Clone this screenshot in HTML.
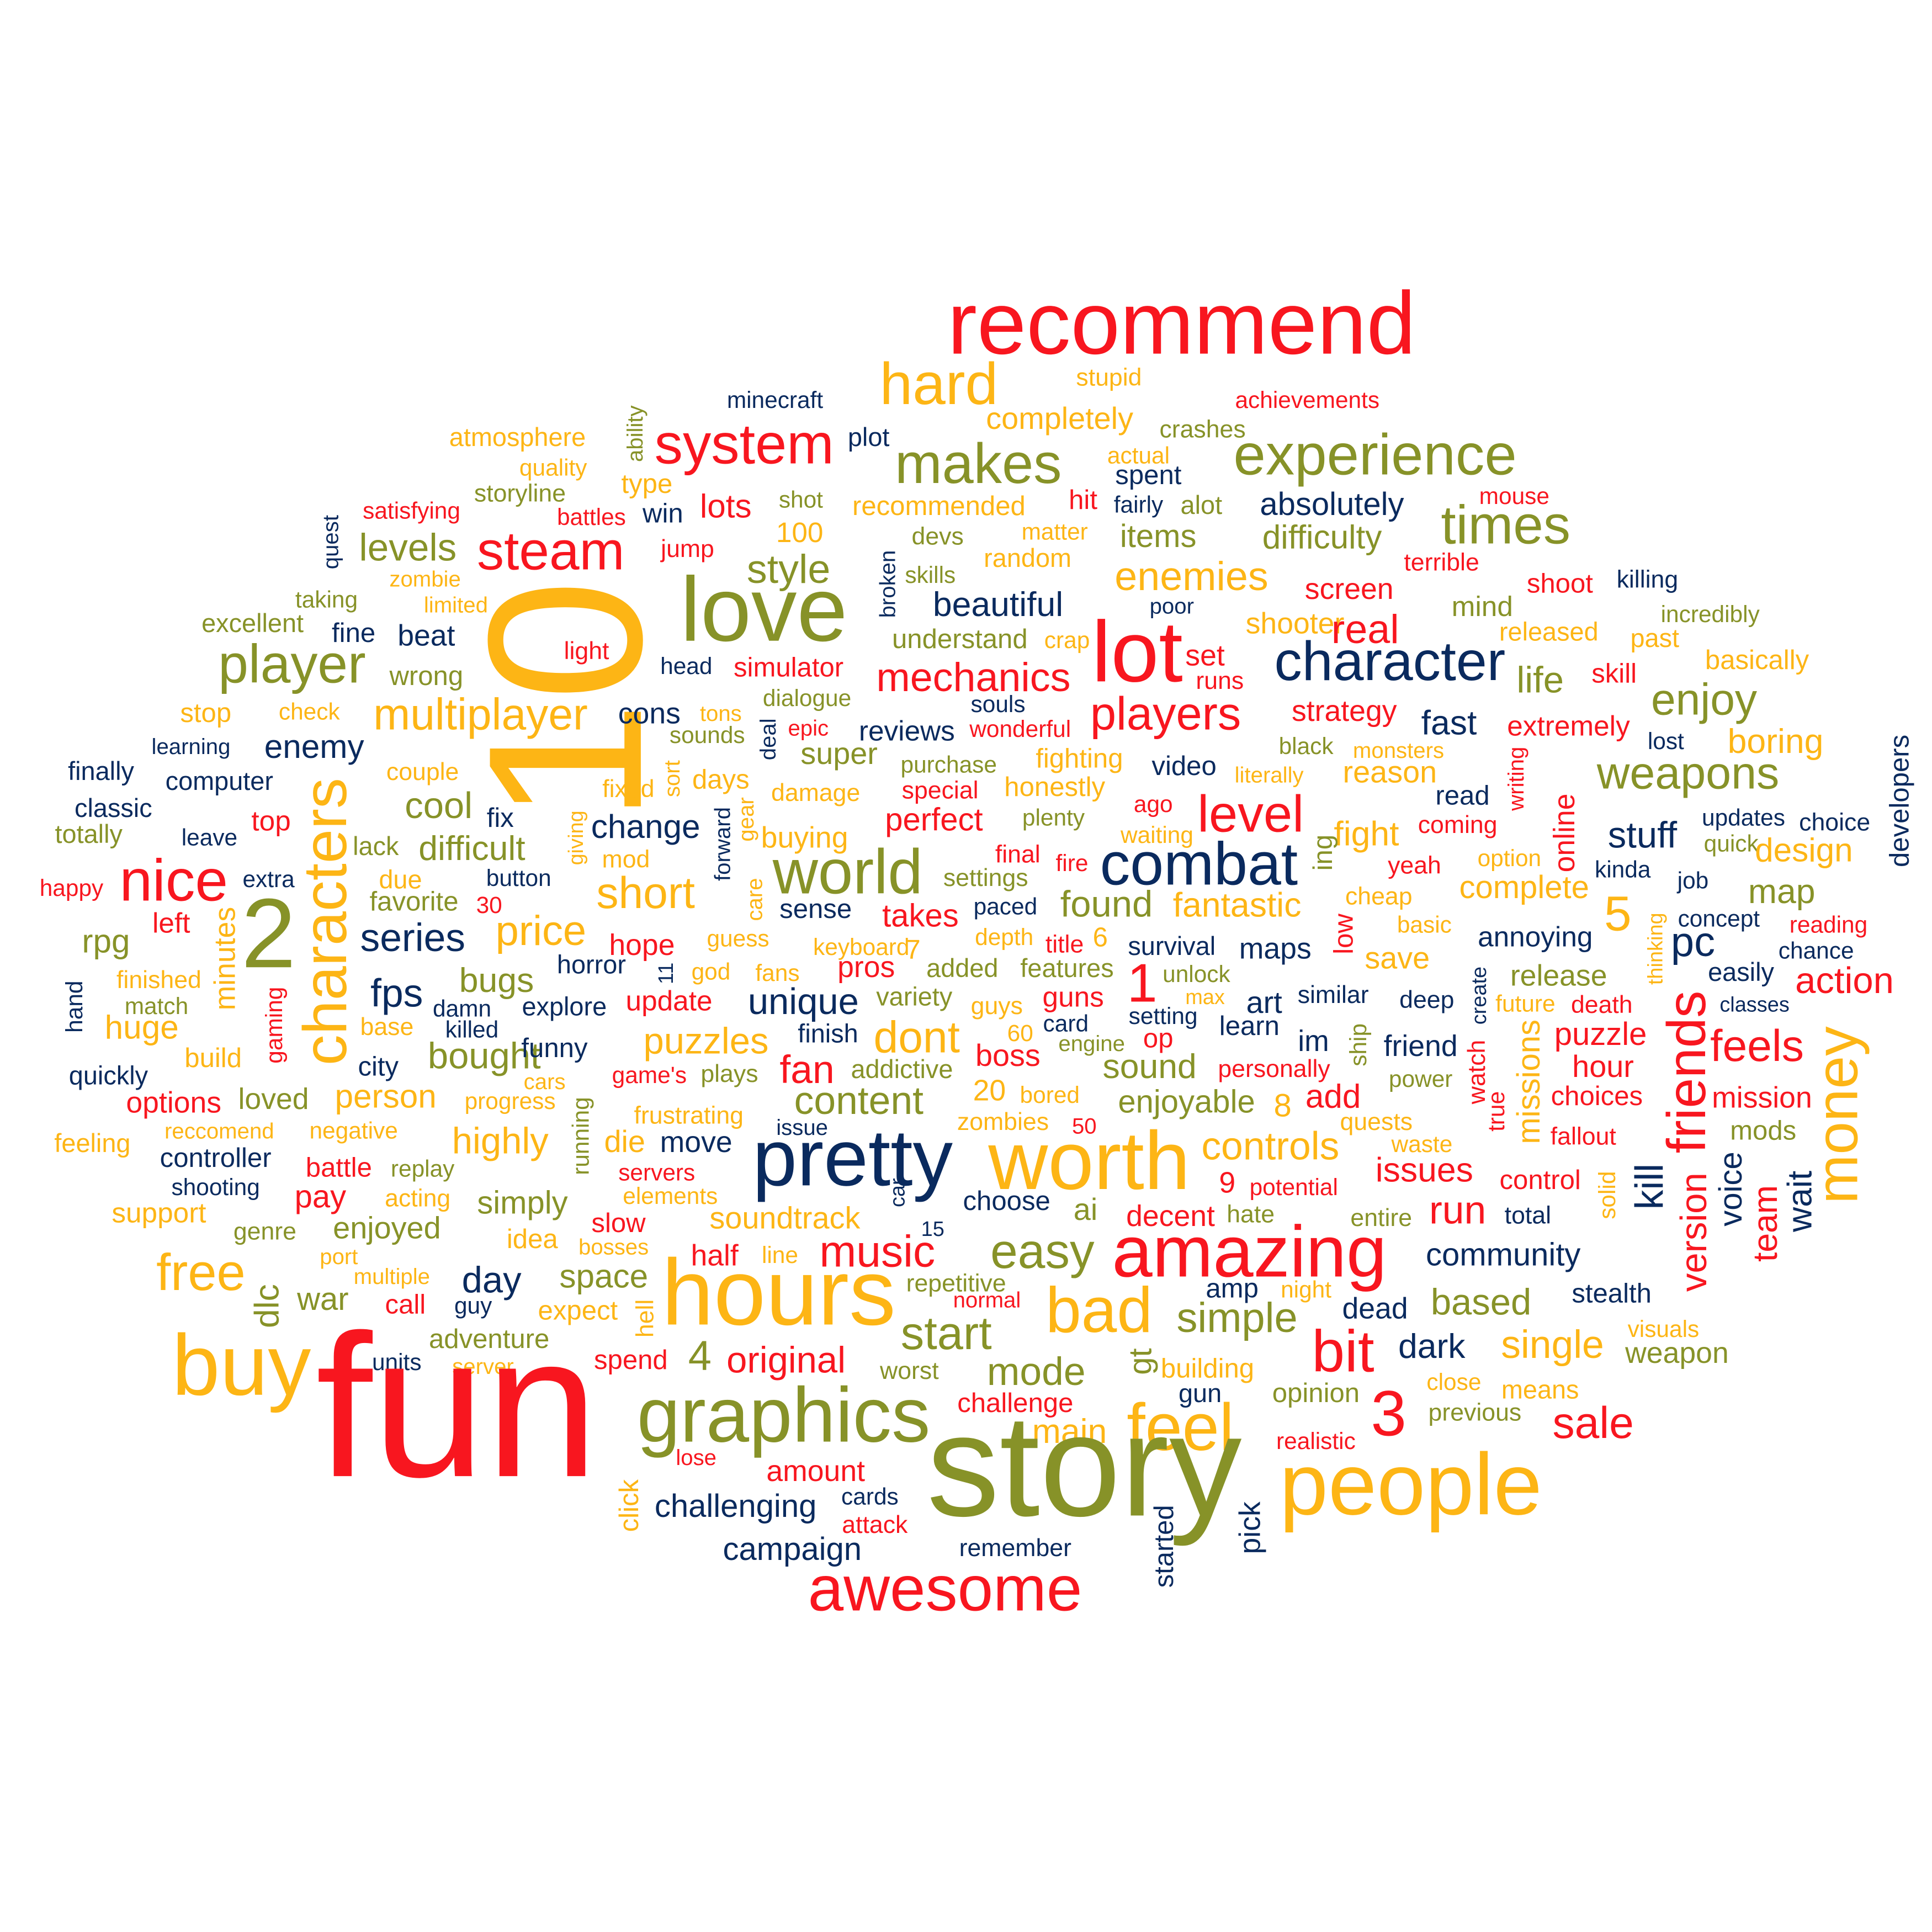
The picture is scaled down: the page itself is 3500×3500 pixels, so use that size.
<!DOCTYPE html>
<html><head><meta charset="utf-8"><style>
html,body{margin:0;padding:0;background:#fff;}
svg{display:block;}
text{font-family:"Liberation Sans",Arial,sans-serif;}
</style></head><body>
<svg id="cloud" width="3500" height="3500" viewBox="0 0 1568 1568" xmlns="http://www.w3.org/2000/svg">
<rect width="1568" height="1568" fill="#fff"/>
</svg>
<script>
// word cloud data: [word, x, y, fontSize, colorKey, rotated]
const colors = {R:"#F8161F", O:"#FDB515", G:"#879228", N:"#0A2A5E"};
const words = [
["recommend",959,287,72,"R",0],["hard",762,328,48,"O",0],["stupid",900,313,20,"O",0],["minecraft",629,331,19,"N",0],
["achievements",1061,331,19,"R",0],["ability",515,352,18,"G",1],["completely",860,348,25,"O",0],["atmosphere",420,362,21,"O",0],
["system",604,376,46,"R",0],["plot",705,362,21,"N",0],["crashes",976,355,20,"G",0],["makes",794,392,46,"G",0],
["experience",1116,385,47,"G",0],["actual",924,376,19,"O",0],["quality",449,386,19,"O",0],["type",525,400,22,"O",0],
["spent",932,393,22,"N",0],["storyline",422,407,20,"G",0],["quest",268,440,18,"N",1],["satisfying",334,421,19,"R",0],
["battles",480,426,19,"R",0],["win",538,424,22,"N",0],["lots",589,420,27,"R",0],["shot",650,412,19,"G",0],
["recommended",762,418,22,"O",0],["hit",879,413,22,"R",0],["fairly",924,416,19,"N",0],["alot",975,417,21,"G",0],
["absolutely",1081,418,26,"N",0],["mouse",1229,409,19,"R",0],["times",1222,441,44,"G",0],["levels",331,455,31,"G",0],
["steam",447,462,44,"R",0],["100",649,440,23,"O",0],["devs",761,442,20,"G",0],["matter",856,438,19,"O",0],
["items",940,444,26,"G",0],["difficulty",1073,445,27,"G",0],["jump",558,452,20,"R",0],["broken",720,474,18,"N",1],
["random",834,460,21,"O",0],["style",640,473,33,"G",0],["skills",755,473,19,"G",0],["enemies",967,479,33,"O",0],
["screen",1095,486,24,"R",0],["terrible",1170,463,20,"R",0],["shoot",1266,481,22,"R",0],["killing",1337,477,20,"N",0],
["zombie",345,476,18,"O",0],["love",620,520,74,"G",0],["taking",265,493,19,"G",0],["limited",370,497,18,"O",0],
["10",456,569,178,"O",1],["light",476,535,20,"R",0],["excellent",205,513,21,"G",0],["fine",287,521,22,"N",0],
["beat",346,524,24,"N",0],["head",557,547,19,"N",0],["understand",779,526,22,"G",0],["beautiful",810,500,28,"N",0],
["crap",866,526,19,"O",0],["poor",951,498,18,"N",0],["lot",923,553,70,"R",0],["shooter",1051,514,24,"O",0],
["mind",1203,500,23,"G",0],["incredibly",1388,505,19,"G",0],["released",1257,520,21,"O",0],["past",1343,525,21,"O",0],
["basically",1426,543,22,"O",0],["real",1108,522,33,"R",0],["set",978,540,24,"R",0],["runs",990,559,20,"R",0],
["character",1128,552,45,"N",0],["player",237,554,44,"G",0],["wrong",346,556,22,"G",0],["simulator",640,549,22,"R",0],
["mechanics",790,561,33,"R",0],["life",1250,562,30,"G",0],["skill",1310,554,22,"R",0],["enjoy",1383,580,36,"G",0],
["dialogue",655,573,19,"G",0],["souls",810,578,19,"N",0],["players",946,592,38,"R",0],["stop",167,586,22,"O",0],
["check",251,584,19,"O",0],["multiplayer",390,592,36,"O",0],["cons",527,587,24,"N",0],["tons",585,585,18,"O",0],
["strategy",1091,585,24,"R",0],["fast",1176,596,28,"N",0],["extremely",1273,597,23,"R",0],["epic",656,597,18,"R",0],
["wonderful",828,598,19,"R",0],["reviews",736,601,23,"N",0],["sounds",574,603,19,"G",0],["deal",623,600,18,"N",1],
["lost",1352,608,19,"N",0],["boring",1441,611,28,"O",0],["black",1060,612,19,"G",0],["monsters",1135,615,18,"O",0],
["developers",1541,650,22,"N",1],["learning",155,612,18,"N",0],["enemy",255,615,27,"N",0],["super",681,620,25,"G",0],
["purchase",770,627,19,"G",0],["fighting",876,623,22,"O",0],["video",961,629,22,"N",0],["literally",1030,635,18,"O",0],
["reason",1128,635,25,"O",0],["writing",1230,632,18,"R",1],["finally",82,633,21,"N",0],["computer",178,641,21,"N",0],
["characters",263,748,50,"O",1],["couple",343,633,20,"O",0],["sort",545,632,18,"O",1],["days",585,640,22,"O",0],
["damage",662,650,20,"O",0],["special",763,648,20,"R",0],["honestly",856,646,22,"O",0],["weapons",1370,640,37,"G",0],
["classic",92,663,21,"N",0],["fixed",510,647,20,"O",0],["cool",356,664,30,"G",0],["fix",406,671,22,"N",0],
["read",1187,653,22,"N",0],["online",1269,676,24,"R",1],["ago",936,659,19,"R",0],["level",1015,675,42,"R",0],
["gear",605,665,18,"O",1],["giving",467,680,17,"O",1],["top",220,674,23,"R",0],["change",524,680,27,"N",0],
["perfect",758,674,26,"R",0],["plenty",855,670,19,"G",0],["fight",1109,686,28,"O",0],["coming",1183,676,20,"R",0],
["updates",1415,670,19,"N",0],["choice",1489,674,20,"N",0],["totally",72,684,21,"G",0],["leave",170,686,19,"N",0],
["forward",586,685,18,"N",1],["buying",653,688,24,"O",0],["waiting",939,684,19,"O",0],["stuff",1333,688,30,"N",0],
["quick",1405,691,19,"G",0],["lack",305,694,21,"G",0],["difficult",383,698,28,"G",0],["mod",508,704,20,"O",0],
["final",826,700,20,"R",0],["fire",870,707,19,"R",0],["ing",1073,692,22,"G",1],["design",1464,699,27,"O",0],
["option",1225,703,19,"O",0],["happy",58,727,19,"R",0],["extra",218,720,19,"N",0],["button",421,719,19,"N",0],
["nice",141,731,48,"R",0],["due",325,721,21,"O",0],["world",688,725,51,"G",0],["combat",973,718,49,"N",0],
["settings",800,719,20,"G",0],["yeah",1148,709,20,"R",0],["kinda",1317,712,19,"N",0],["job",1374,721,19,"N",0],
["short",524,737,36,"O",0],["favorite",336,739,22,"G",0],["cheap",1119,734,20,"O",0],["complete",1237,729,26,"O",0],
["map",1446,733,28,"G",0],["found",898,744,30,"G",0],["fantastic",1004,744,28,"O",0],["paced",816,742,19,"N",0],
["left",139,757,23,"R",0],["2",218,785,80,"G",0],["minutes",182,778,24,"O",1],["30",397,741,19,"R",0],
["care",612,730,18,"O",1],["sense",662,745,22,"N",0],["takes",747,752,26,"R",0],["low",1090,758,22,"R",1],
["basic",1156,757,19,"O",0],["5",1313,755,40,"O",0],["concept",1395,752,19,"N",0],["reading",1484,757,19,"R",0],
["series",335,772,32,"N",0],["price",439,767,34,"O",0],["thinking",1343,770,17,"O",1],["6",893,768,22,"O",0],
["title",864,773,20,"R",0],["depth",815,767,19,"O",0],["survival",951,775,21,"N",0],["maps",1035,778,24,"N",0],
["annoying",1246,768,23,"N",0],["pc",1374,776,34,"N",0],["chance",1474,778,19,"N",0],["rpg",86,773,27,"G",0],
["hope",521,775,24,"R",0],["keyboard",699,775,19,"O",0],["7",741,778,22,"O",0],["save",1134,786,25,"O",0],
["horror",480,790,21,"N",0],["guess",599,768,19,"O",0],["god",577,795,19,"O",0],["fans",631,796,19,"O",0],
["pros",703,793,24,"R",0],["added",781,793,21,"G",0],["features",866,793,21,"G",0],["1",927,813,44,"R",0],
["unlock",971,797,19,"G",0],["create",1200,808,17,"N",1],["release",1265,800,24,"G",0],["easily",1413,796,21,"N",0],
["action",1497,806,30,"R",0],["finished",129,802,20,"O",0],["11",540,790,17,"N",1],["bugs",403,805,28,"G",0],
["fps",322,817,32,"N",0],["update",543,820,23,"R",0],["max",978,815,17,"O",0],["similar",1082,814,20,"N",0],
["death",1300,822,20,"R",0],["deep",1158,818,20,"N",0],["future",1238,821,19,"O",0],["classes",1424,821,17,"N",0],
["hand",60,817,19,"N",1],["match",127,823,19,"G",0],["damn",375,825,19,"N",0],["explore",458,824,21,"N",0],
["unique",652,823,30,"N",0],["variety",742,816,21,"G",0],["guys",809,823,20,"O",0],["guns",871,817,23,"R",0],
["art",1026,822,25,"N",0],["setting",944,831,19,"N",0],["op",940,850,22,"R",0],["huge",115,843,27,"O",0],
["gaming",222,832,19,"R",1],["base",314,840,20,"O",0],["killed",383,842,19,"N",0],["learn",1014,840,22,"N",0],
["card",865,837,19,"N",0],["dont",744,854,36,"O",0],["60",828,845,19,"O",0],["im",1066,853,24,"N",0],
["ship",1102,848,19,"G",1],["missions",1240,878,26,"O",1],["puzzle",1299,848,26,"R",0],["feels",1426,861,36,"R",0],
["friends",1368,870,44,"R",1],["money",1490,905,48,"O",1],["finish",672,846,21,"N",0],["puzzles",573,855,30,"O",0],
["engine",886,853,18,"G",0],["friend",1153,857,24,"N",0],["build",173,866,22,"O",0],["city",307,873,22,"N",0],
["bought",393,867,30,"G",0],["funny",450,858,22,"N",0],["fan",655,879,32,"R",0],["boss",818,865,25,"R",0],
["addictive",732,875,21,"G",0],["sound",933,875,28,"G",0],["personally",1034,874,20,"R",0],["watch",1198,870,20,"R",1],
["hour",1301,874,25,"R",0],["quickly",88,880,21,"N",0],["game's",527,879,19,"R",0],["plays",592,878,20,"G",0],
["cars",442,884,18,"O",0],["power",1153,882,19,"G",0],["true",1214,902,19,"R",1],["options",141,903,24,"R",0],
["loved",222,900,24,"G",0],["person",313,899,27,"O",0],["progress",414,900,19,"O",0],["running",471,922,19,"G",1],
["content",697,904,32,"G",0],["20",803,893,24,"O",0],["bored",852,895,19,"O",0],["enjoyable",963,903,26,"G",0],
["8",1041,906,26,"O",0],["add",1082,899,27,"R",0],["choices",1296,897,22,"R",0],["mission",1430,899,24,"R",0],
["frustrating",559,912,20,"O",0],["zombies",814,917,20,"O",0],["50",880,920,18,"R",0],["quests",1117,917,20,"O",0],
["mods",1431,925,22,"G",0],["feeling",75,935,21,"O",0],["reccomend",178,924,18,"O",0],["negative",287,924,19,"O",0],
["highly",406,936,30,"O",0],["issue",651,921,18,"N",0],["pretty",692,962,65,"N",0],["worth",884,965,67,"O",0],
["controls",1031,941,32,"O",0],["waste",1154,935,19,"O",0],["fallout",1285,929,20,"R",0],["controller",175,947,22,"N",0],
["die",507,935,25,"O",0],["move",565,935,24,"N",0],["battle",275,955,22,"R",0],["replay",343,955,19,"G",0],
["servers",533,958,19,"R",0],["issues",1156,959,28,"R",0],["control",1250,965,22,"R",0],["9",996,968,24,"R",0],
["potential",1050,970,19,"R",0],["kill",1338,963,32,"N",1],["version",1374,1000,30,"R",1],["voice",1404,965,26,"N",1],
["team",1432,993,28,"R",1],["wait",1460,975,28,"N",1],["shooting",175,970,19,"N",0],["pay",260,980,26,"R",0],
["acting",339,979,20,"O",0],["simply",424,985,26,"G",0],["elements",544,977,19,"O",0],["choose",817,982,22,"N",0],
["car",728,968,17,"N",1],["solid",1304,970,19,"O",1],["support",129,992,23,"O",0],["ai",881,990,25,"G",0],
["decent",950,995,24,"R",0],["hate",1015,992,20,"G",0],["run",1183,993,32,"R",0],["total",1240,993,20,"N",0],
["entire",1121,995,20,"G",0],["genre",215,1006,20,"G",0],["enjoyed",314,1005,25,"G",0],["slow",502,1000,22,"R",0],
["soundtrack",637,997,25,"O",0],["15",757,1003,17,"N",0],["idea",432,1013,22,"O",0],["bosses",498,1018,18,"O",0],
["free",163,1047,42,"O",0],["easy",846,1029,40,"G",0],["amazing",1014,1036,59,"R",0],["community",1220,1027,26,"N",0],
["port",275,1026,18,"O",0],["multiple",318,1042,18,"O",0],["half",580,1027,24,"R",0],["line",633,1025,19,"O",0],
["music",712,1028,36,"R",0],["space",490,1045,27,"G",0],["day",399,1049,30,"N",0],["repetitive",776,1048,20,"G",0],
["amp",1000,1053,22,"N",0],["night",1060,1053,19,"O",0],["hours",632,1075,76,"O",0],["dlc",216,1060,28,"G",1],
["war",262,1063,26,"G",0],["call",329,1066,22,"R",0],["guy",384,1066,19,"N",0],["expect",469,1071,22,"O",0],
["normal",801,1061,18,"R",0],["bad",892,1081,52,"O",0],["simple",1004,1081,34,"G",0],["dead",1116,1070,24,"N",0],
["based",1202,1067,30,"G",0],["stealth",1308,1057,22,"N",0],["start",768,1095,38,"G",0],["hell",523,1070,20,"O",1],
["visuals",1350,1085,19,"O",0],["dark",1162,1102,28,"N",0],["buy",196,1132,70,"O",0],["adventure",397,1094,22,"G",0],
["units",322,1112,19,"N",0],["server",392,1115,18,"O",0],["4",568,1112,34,"G",0],["original",638,1114,30,"R",0],
["gt",925,1105,26,"G",1],["building",980,1118,22,"O",0],["bit",1090,1113,48,"R",0],["single",1260,1102,32,"O",0],
["weapon",1361,1106,24,"G",0],["spend",512,1111,22,"R",0],["worst",738,1119,20,"G",0],["mode",841,1124,32,"G",0],
["fun",371,1198,165,"R",0],["graphics",636,1170,63,"G",0],["challenge",824,1146,22,"R",0],["gun",974,1138,21,"N",0],
["opinion",1068,1138,22,"G",0],["close",1180,1128,19,"O",0],["means",1250,1135,21,"O",0],["3",1127,1165,52,"R",0],
["feel",958,1177,54,"O",0],["main",868,1171,28,"O",0],["previous",1197,1153,20,"G",0],["sale",1293,1167,36,"R",0],
["realistic",1068,1176,19,"R",0],["story",880,1230,118,"G",0],["people",1145,1229,71,"O",0],["lose",565,1189,18,"R",0],
["amount",662,1202,24,"R",0],["click",510,1222,22,"O",1],["challenging",597,1231,26,"N",0],["cards",706,1221,19,"N",0],
["attack",710,1244,20,"R",0],["started",944,1255,22,"N",1],["pick",1014,1240,24,"N",1],["campaign",643,1266,26,"N",0],
["remember",824,1263,20,"N",0],["awesome",767,1307,52,"R",0]
];
const svg = document.getElementById('cloud');
const NS = "http://www.w3.org/2000/svg";
words.forEach(function(w){
  const t = document.createElementNS(NS,'text');
  t.textContent = w[0];
  t.setAttribute('font-size', w[3]);
  t.setAttribute('fill', colors[w[4]]);
  t.setAttribute('text-anchor','middle');
  if (w[5]) {
    const bx = w[1] + 0.36*w[3];
    t.setAttribute('transform','translate('+bx+','+w[2]+') rotate(-90)');
  } else {
    t.setAttribute('x', w[1]);
    t.setAttribute('y', w[2]);
  }
  
  
  svg.appendChild(t);
});
</script>
</body></html>
